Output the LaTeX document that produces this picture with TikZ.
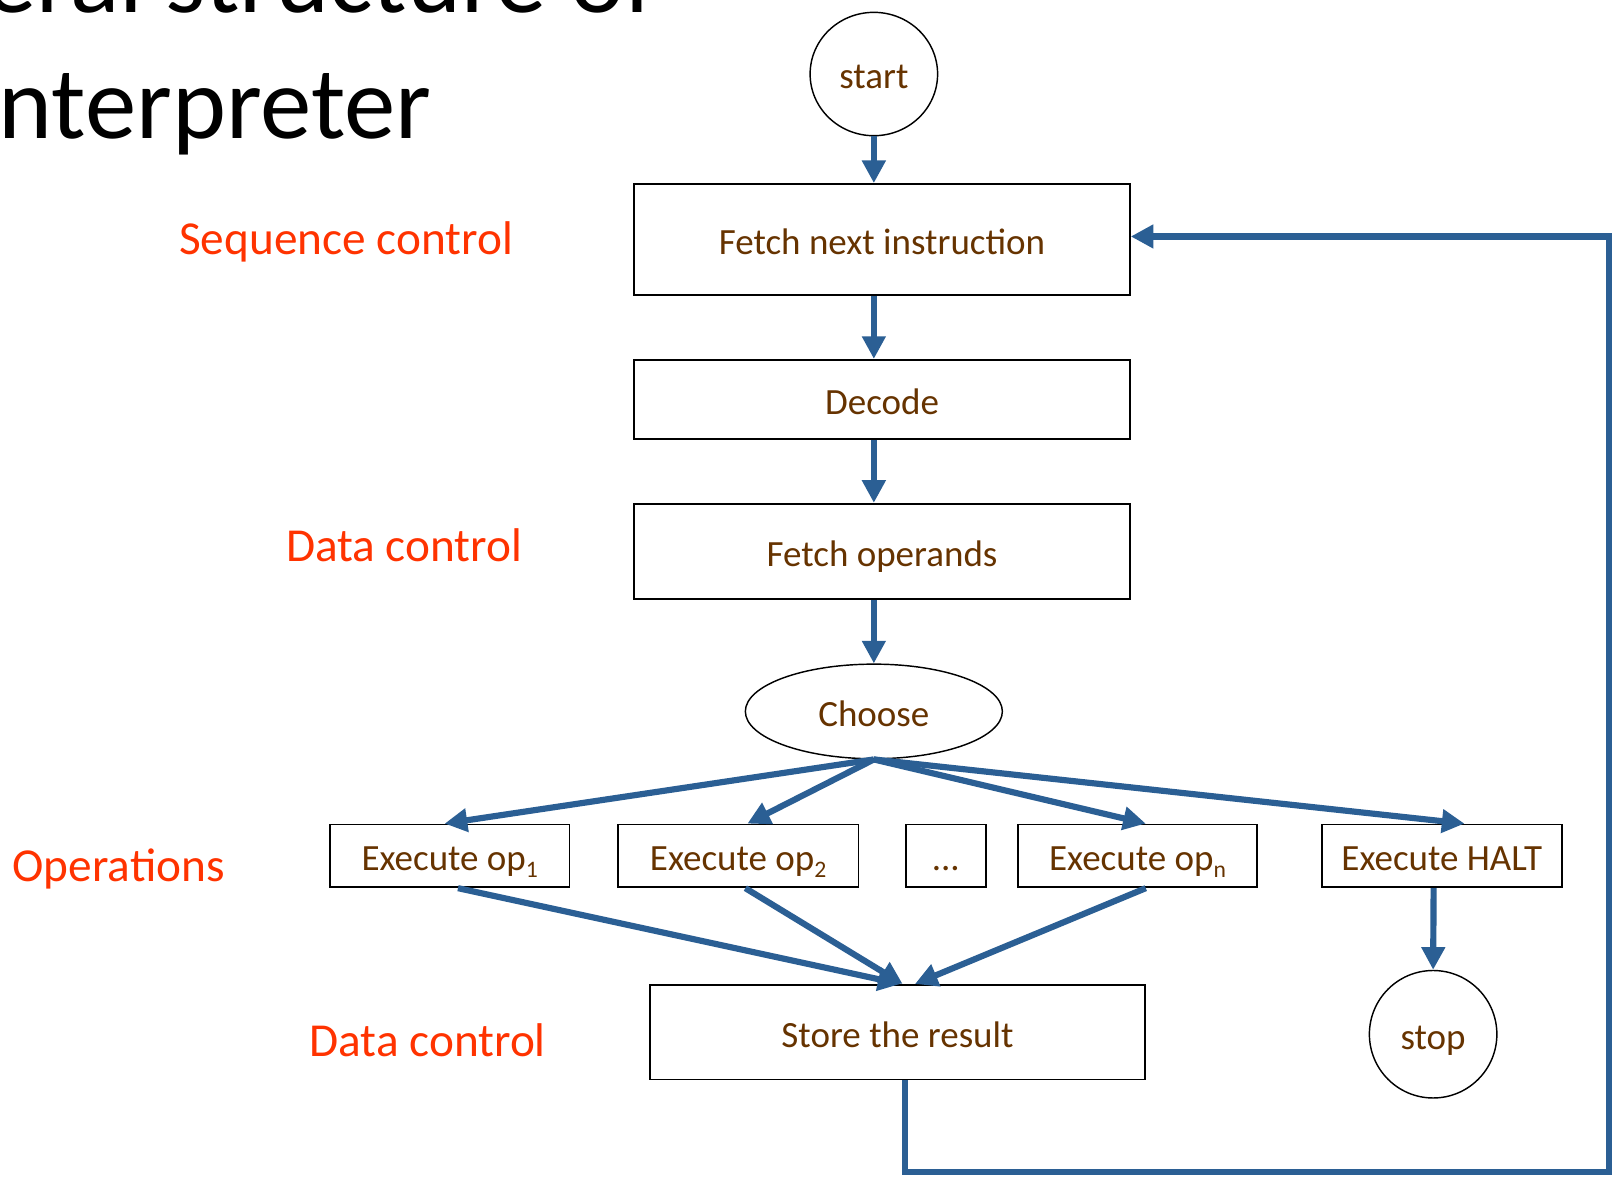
\documentclass[tikz,border=0pt]{standalone}
\usepackage{fontspec}
\setmainfont{Carlito}
\usetikzlibrary{arrows.meta,shapes.geometric,calc}
\definecolor{flowblue}{HTML}{2B5F94}
\definecolor{txtbrown}{HTML}{663300}
\definecolor{lblred}{HTML}{FF3300}
% lowered, smaller index after "op"
\newcommand{\opidx}[1]{\raisebox{-7pt}{\fontsize{23}{23}\selectfont #1}}
\begin{document}
\begin{tikzpicture}[x=1pt,y=-1pt,
  nodetext/.style={text=txtbrown, font=\fontsize{36}{40}\selectfont, inner sep=0pt,
    text height=29pt, text depth=0pt},
  stepbox/.style={nodetext, draw, line width=1.8pt, rectangle},
  term/.style={nodetext, draw, line width=1.4pt, ellipse},
  lbl/.style={text=lblred, font=\fontsize{46}{52}\selectfont, inner sep=0pt, anchor=base west},
  flow/.style={draw=flowblue, line width=6pt,
    -{Triangle[length=22pt,width=22pt]}},
  title/.style={font=\fontsize{100}{116}\selectfont, inner sep=0pt, anchor=base east}
]
\fill[white] (0,0) rectangle (1568,1144);
\useasboundingbox (0,0) rectangle (1568,1144);

% heading, partly cut off by the page edge
\node[title] (t1) at (638,12) {General structure of};
\node[title] (t2) at (420,135) {an interpreter};

% main column
\node[term, minimum width=124pt, minimum height=120pt] (start) at (850,72) {start};
\node[stepbox, minimum width=482pt, minimum height=108pt] (fetch) at (858,233) {Fetch next instruction};
\node[stepbox, minimum width=482pt, minimum height=77pt] (decode) at (858,388.5) {Decode};
\node[stepbox, minimum width=482pt, minimum height=93pt] (operands) at (858,536.5) {Fetch operands};
\node[term, minimum width=250pt, minimum height=92pt] (choose) at (850,692) {Choose};

% operations row
\node[stepbox, minimum width=233pt, minimum height=61pt] (op1) at (437.5,832.5) {Execute op\opidx{1}};
\node[stepbox, minimum width=234pt, minimum height=61pt] (op2) at (718,832.5) {Execute op\opidx{2}};
\node[stepbox, minimum width=78pt, minimum height=61pt] (dots) at (920,832.5) {...};
\node[stepbox, minimum width=233pt, minimum height=61pt] (opn) at (1106.5,832.5) {Execute op\opidx{n}};
\node[stepbox, minimum width=233pt, minimum height=61pt] (halt) at (1402.5,832.5) {Execute HALT};

\node[stepbox, minimum width=482pt, minimum height=92pt] (store) at (873,1004) {Store the result};
\node[term, minimum width=124pt, minimum height=124pt] (stop) at (1394,1006) {stop};

% side labels
\node[lbl] (lseq) at (174,248) {Sequence control};
\node[lbl] (ldata1) at (278,546) {Data control};
\node[lbl] (lops) at (12,857.5) {Operations};
\node[lbl] (ldata2) at (301,1028) {Data control};

% vertical flow
\draw[flow] (start.south) -- (start.south |- fetch.north);
\draw[flow] (fetch.south -| start.south) -- (decode.north -| start.south);
\draw[flow] (decode.south -| start.south) -- (operands.north -| start.south);
\draw[flow] (operands.south -| start.south) -- (choose.north);

% branches out of the choice
\draw[flow] (choose.south) -- ([xshift=-5]op1.north);
\draw[flow] (choose.south) -- ([xshift=9]op2.north);
\draw[flow] (choose.south) -- ([xshift=8]opn.north);
\draw[flow] (choose.south) -- ([xshift=22]halt.north);

% results gathered into the store step
\draw[flow] ([xshift=8]op1.south) -- ([xshift=3]store.north);
\draw[flow] ([xshift=7]op2.south) -- ([xshift=5]store.north);
\draw[flow] ([xshift=8]opn.south) -- ([xshift=17]store.north);

\draw[flow] ([xshift=-8]halt.south) -- (stop.north);

% loop back to the next instruction
\coordinate (lb) at (1565,1140);
\coordinate (lt) at (1565,230);
\draw[flow] ([xshift=7]store.south) |- (lb) -- (lt) -- (fetch.east |- lt);
\end{tikzpicture}
\end{document}
